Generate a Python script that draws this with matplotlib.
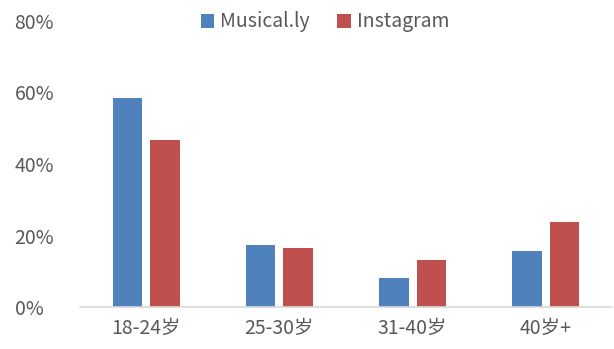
import matplotlib
matplotlib.use('Agg')
import matplotlib.pyplot as plt
import numpy as np
from matplotlib.ticker import PercentFormatter

plt.rcParams['font.family'] = ['Noto Sans CJK SC', 'DejaVu Sans']

# 年龄段分布
categories = ['18-24岁', '25-30岁', '31-40岁', '40岁+']
musically = [58.5, 17.4, 8.2, 15.6]
instagram = [46.6, 16.5, 13.2, 23.9]
series_names = ['Musical.ly', 'Instagram']

blue = '#4F81BD'
red = '#C0504D'
gray = '#595959'

fig = plt.figure(figsize=(6.14, 3.49), dpi=100)
ax = fig.add_axes([0.130, 0.120, 0.867, 0.820])

x = np.arange(len(categories))
w = 0.22
gap = 0.06
ax.bar(x - (w + gap) / 2, musically, width=w, color=blue, label=series_names[0])
ax.bar(x + (w + gap) / 2, instagram, width=w, color=red, label=series_names[1])

ax.set_xlim(-0.5, len(categories) - 0.5)
ax.set_ylim(0, 80)
ax.set_yticks([0, 20, 40, 60, 80])
ax.yaxis.set_major_formatter(PercentFormatter(decimals=0))
ax.set_xticks(x)
ax.set_xticklabels(categories)

for s in ['top', 'right', 'left']:
    ax.spines[s].set_visible(False)
ax.spines['bottom'].set_color('#D9D9D9')
ax.spines['bottom'].set_linewidth(1.2)
ax.tick_params(axis='both', length=0, labelsize=14, labelcolor=gray)
ax.tick_params(axis='x', pad=8)
for lbl in ax.get_yticklabels():
    lbl.set_horizontalalignment('left')
ax.yaxis.set_tick_params(pad=47)

fig.legend(loc='center', bbox_to_anchor=(325 / 614, 1 - 22 / 349), ncol=2,
           frameon=False, fontsize=14, labelcolor=gray,
           handlelength=0.7, handleheight=0.7, handletextpad=0.3, columnspacing=1.4)

fig.savefig('out.png', dpi=100)
